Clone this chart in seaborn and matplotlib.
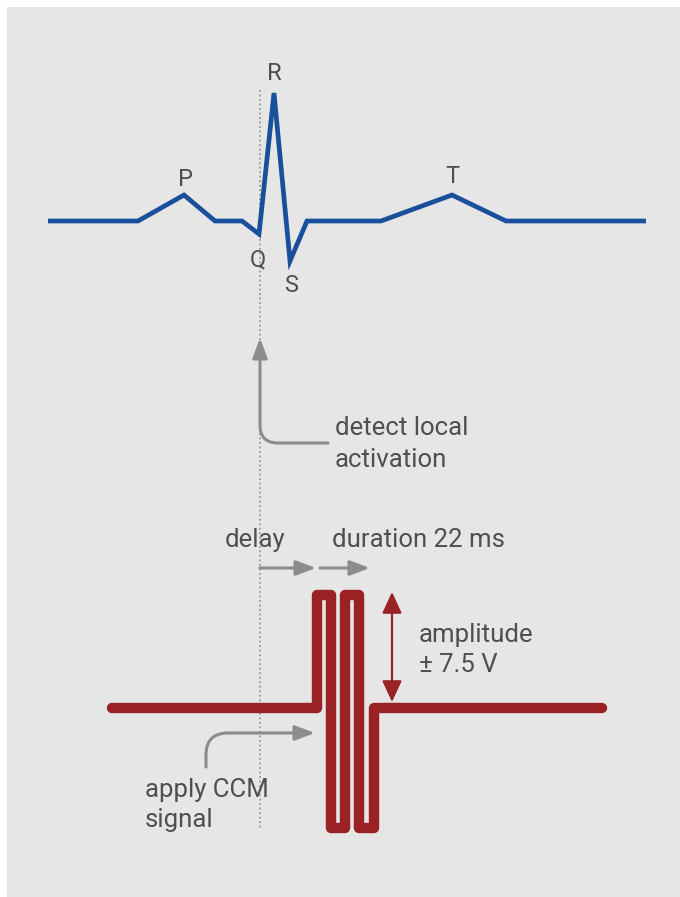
import matplotlib
matplotlib.use("Agg")
import matplotlib.pyplot as plt
import matplotlib.patches as mpatches
import seaborn as sns
import pandas as pd

sns.set_style("white")
plt.rcParams["font.family"] = ["Roboto", "DejaVu Sans"]

# ECG trace (pixel coordinates of the diagram)
ecg_x = [48, 138, 184, 215, 242, 259, 274, 290, 307, 381, 452, 506, 646]
ecg_y = [221, 221, 195, 221, 221, 234, 93, 261, 221, 221, 195, 221, 221]
wave_labels = ["P", "Q", "R", "S", "T"]
wave_label_x = [185, 258, 274, 291, 452]
wave_label_y = [186, 266, 80, 292, 183]

# CCM signal: baseline with a biphasic pulse train
ccm_x = [112, 317, 317, 331, 331, 345, 345, 359, 359, 374, 374, 602]
ccm_y = [708, 708, 595, 595, 828, 828, 595, 595, 828, 828, 708, 708]

text_color = "#4f4f4f"
arrow_gray = "#8c8c8c"
blue = "#1a4f9c"
red = "#9b2224"
fs = 18.5

fig = plt.figure(figsize=(6.8, 8.97), dpi=100)
ax = fig.add_axes([0, 0, 1, 1])

ax.add_patch(mpatches.Rectangle((7, 7), 700, 920, facecolor="#e6e6e6",
                                edgecolor="none", zorder=0))

# dotted timing line
ax.plot([260, 260], [90, 830], ls=(0, (1, 1.5)), color="#999999", lw=1.3, zorder=1)

ecg_df = pd.DataFrame({"x": ecg_x, "y": ecg_y})
sns.lineplot(data=ecg_df, x="x", y="y", sort=False, estimator=None, color=blue,
             lw=3.4, ax=ax, zorder=3, solid_joinstyle="miter", solid_capstyle="butt")

ccm_df = pd.DataFrame({"x": ccm_x, "y": ccm_y})
sns.lineplot(data=ccm_df, x="x", y="y", sort=False, estimator=None, color=red,
             lw=7.5, ax=ax, zorder=3, solid_joinstyle="round", solid_capstyle="round")
ax.set_xlim(0, 680)
ax.set_ylim(897, 0)
ax.axis("off")

for lab, lx, ly in zip(wave_labels, wave_label_x, wave_label_y):
    ax.text(lx, ly, lab, fontsize=17, color=text_color, ha="center", va="baseline")

gray_arrow = dict(arrowstyle="-|>,head_length=1.2,head_width=0.45", color=arrow_gray,
                  lw=2.2, shrinkA=0, shrinkB=0, mutation_scale=10)

# detect local activation
ax.annotate("", xy=(260, 338), xytext=(328, 443),
            arrowprops=dict(gray_arrow, connectionstyle="angle,angleA=180,angleB=90,rad=18"))
ax.text(335, 435, "detect local", fontsize=fs, color=text_color, va="baseline")
ax.text(335, 467, "activation", fontsize=fs, color=text_color, va="baseline")

# delay / duration
ax.annotate("", xy=(316, 568), xytext=(260, 568), arrowprops=gray_arrow)
ax.annotate("", xy=(370, 568), xytext=(320, 568), arrowprops=gray_arrow)
ax.text(255, 547, "delay", fontsize=fs, color=text_color, ha="center", va="baseline")
ax.text(332, 547, "duration 22 ms", fontsize=fs, color=text_color, va="baseline")

# amplitude
ax.annotate("", xy=(392, 592), xytext=(392, 702),
            arrowprops=dict(arrowstyle="<|-|>,head_length=1.3,head_width=0.6",
                            color=red, lw=1.6, shrinkA=0, shrinkB=0, mutation_scale=10))
ax.text(419, 642, "amplitude", fontsize=fs, color=text_color, va="baseline")
ax.text(419, 672, "± 7.5 V", fontsize=fs, color=text_color, va="baseline")

# apply CCM signal
ax.annotate("", xy=(315, 733), xytext=(206, 767),
            arrowprops=dict(gray_arrow, connectionstyle="angle,angleA=90,angleB=0,rad=22"))
ax.text(145, 797, "apply CCM", fontsize=fs, color=text_color, va="baseline")
ax.text(145, 827, "signal", fontsize=fs, color=text_color, va="baseline")

fig.savefig("out.png", dpi=100)
